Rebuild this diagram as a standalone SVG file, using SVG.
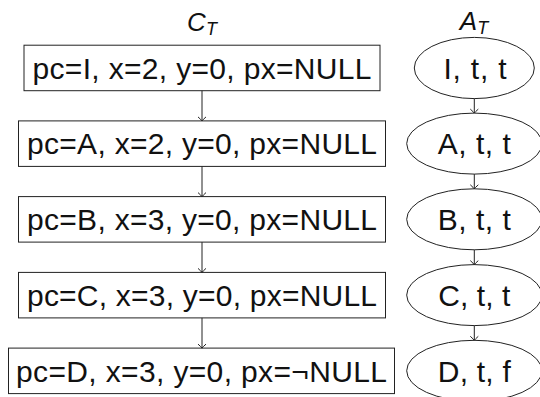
<svg xmlns="http://www.w3.org/2000/svg" width="540" height="397" viewBox="0 0 540 397">
  <style>
    .box { fill: #ffffff; stroke: #222222; stroke-width: 1; }
    .ell { fill: #ffffff; stroke: #222222; stroke-width: 1; }
    .lbl { font-family: "Liberation Sans", Arial, sans-serif; font-size: 30px; fill: #111111; text-anchor: middle; }
    .ttl { font-family: "Liberation Sans", Arial, sans-serif; font-size: 26px; font-style: italic; fill: #111111; text-anchor: middle; }
    .edge { stroke: #222222; stroke-width: 1; fill: none; marker-end: url(#arr); }
  </style>
  <defs>
    <marker id="arr" viewBox="-5 -5 6 10" refX="0" refY="0" markerWidth="6" markerHeight="10" markerUnits="userSpaceOnUse" orient="auto">
      <path d="M-4,-4 Q-1,-0.7 0,0 Q-1,0.7 -4,4" fill="none" stroke="#222222" stroke-width="1"/>
    </marker>
  </defs>

  <g id="titles">
    <text class="ttl" x="202" y="31">C<tspan font-size="18" dy="4">T</tspan></text>
    <text class="ttl" x="474" y="30">A<tspan font-size="18" dy="4">T</tspan></text>
  </g>

  <g id="c1">
    <rect class="box" x="24" y="45.2" width="356" height="45.5"/>
    <text class="lbl" x="202" y="78.5" textLength="339">pc=I, x=2, y=0, px=NULL</text>
  </g>
  <g id="c2">
    <rect class="box" x="18.5" y="120.9" width="367" height="45.5"/>
    <text class="lbl" x="202" y="154.3" textLength="350">pc=A, x=2, y=0, px=NULL</text>
  </g>
  <g id="c3">
    <rect class="box" x="18.5" y="196.6" width="367" height="45.5"/>
    <text class="lbl" x="202" y="230" textLength="350">pc=B, x=3, y=0, px=NULL</text>
  </g>
  <g id="c4">
    <rect class="box" x="18.5" y="272.4" width="367" height="45.5"/>
    <text class="lbl" x="202" y="305.8" textLength="350">pc=C, x=3, y=0, px=NULL</text>
  </g>
  <g id="c5">
    <rect class="box" x="8.5" y="348.1" width="386" height="45.5"/>
    <text class="lbl" x="201.5" y="381.5" textLength="371">pc=D, x=3, y=0, px=¬NULL</text>
  </g>

  <g id="a1">
    <ellipse class="ell" cx="474.3" cy="68" rx="60" ry="30.6"/>
    <text class="lbl" x="475" y="78.5" textLength="63">I, t, t</text>
  </g>
  <g id="a2">
    <ellipse class="ell" cx="474.3" cy="143.6" rx="67.6" ry="30.5"/>
    <text class="lbl" x="474.3" y="154.3" textLength="73">A, t, t</text>
  </g>
  <g id="a3">
    <ellipse class="ell" cx="474.3" cy="219.3" rx="67.6" ry="30.5"/>
    <text class="lbl" x="474.3" y="230" textLength="73">B, t, t</text>
  </g>
  <g id="a4">
    <ellipse class="ell" cx="474.3" cy="295.1" rx="67.6" ry="30.5"/>
    <text class="lbl" x="474.3" y="305.8" textLength="72">C, t, t</text>
  </g>
  <g id="a5">
    <ellipse class="ell" cx="474.3" cy="370.8" rx="67.6" ry="30.5"/>
    <text class="lbl" x="474.3" y="381.5" textLength="73">D, t, f</text>
  </g>

  <g id="connectors">
    <line class="edge" x1="202" y1="90.7" x2="202" y2="120.9"/>
    <line class="edge" x1="202" y1="166.4" x2="202" y2="196.6"/>
    <line class="edge" x1="202" y1="242.1" x2="202" y2="272.4"/>
    <line class="edge" x1="202" y1="317.9" x2="202" y2="348.1"/>
    <line class="edge" x1="474.3" y1="98.6" x2="474.3" y2="113.1"/>
    <line class="edge" x1="474.3" y1="174.1" x2="474.3" y2="188.8"/>
    <line class="edge" x1="474.3" y1="249.8" x2="474.3" y2="264.6"/>
    <line class="edge" x1="474.3" y1="325.6" x2="474.3" y2="340.3"/>
  </g>
</svg>
